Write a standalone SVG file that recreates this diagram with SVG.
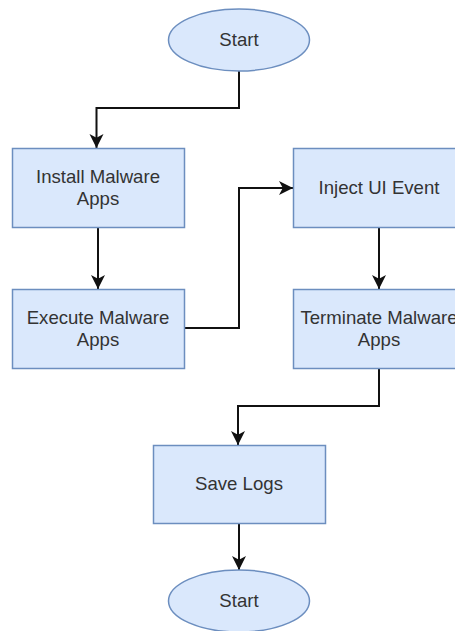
<svg xmlns="http://www.w3.org/2000/svg" width="455" height="631" viewBox="0 0 455 631">
<defs>
<style>
.n{fill:#dae8fc;stroke:#6c8ebf;stroke-width:1.5}
.t{font-family:"Liberation Sans",Arial,sans-serif;font-size:18.6px;fill:#333333;text-anchor:middle}
.c{fill:none;stroke:#111111;stroke-width:2}
</style>
<marker id="ah" markerUnits="userSpaceOnUse" markerWidth="15" markerHeight="15" viewBox="0 0 15 15" refX="14" refY="7.5" orient="auto">
<path d="M0,0.5 L14,7.5 L0,14.5 L3.8,7.5 Z" fill="#111111"/>
</marker>
</defs>
<rect width="455" height="631" fill="#ffffff"/>
<g id="connectors">
<path class="c" d="M239,71 V108 H96.5 V148" marker-end="url(#ah)"/>
<path class="c" d="M98,227 V289" marker-end="url(#ah)"/>
<path class="c" d="M184,328 H239 V188 H293" marker-end="url(#ah)"/>
<path class="c" d="M379,227 V289" marker-end="url(#ah)"/>
<path class="c" d="M379,368 V406 H238 V445" marker-end="url(#ah)"/>
<path class="c" d="M239,523 V570" marker-end="url(#ah)"/>
</g>
<g id="start">
<ellipse class="n" cx="239" cy="40" rx="70.5" ry="31"/>
<text class="t" x="239" y="46">Start</text>
</g>
<g id="install">
<rect class="n" x="12.5" y="148.5" width="172" height="79"/>
<text class="t" x="98" y="183">Install Malware</text>
<text class="t" x="98" y="205">Apps</text>
</g>
<g id="execute">
<rect class="n" x="12.5" y="289.5" width="172" height="79"/>
<text class="t" x="98" y="324">Execute Malware</text>
<text class="t" x="98" y="346">Apps</text>
</g>
<g id="inject">
<rect class="n" x="293.5" y="148.5" width="172" height="79"/>
<text class="t" x="379" y="194">Inject UI Event</text>
</g>
<g id="terminate">
<rect class="n" x="293.5" y="289.5" width="172" height="79"/>
<text class="t" x="379" y="324">Terminate Malware</text>
<text class="t" x="379" y="346">Apps</text>
</g>
<g id="save">
<rect class="n" x="153.5" y="445.5" width="172" height="78"/>
<text class="t" x="239" y="490">Save Logs</text>
</g>
<g id="end">
<ellipse class="n" cx="239" cy="601" rx="70.5" ry="31"/>
<text class="t" x="239" y="607">Start</text>
</g>
</svg>
